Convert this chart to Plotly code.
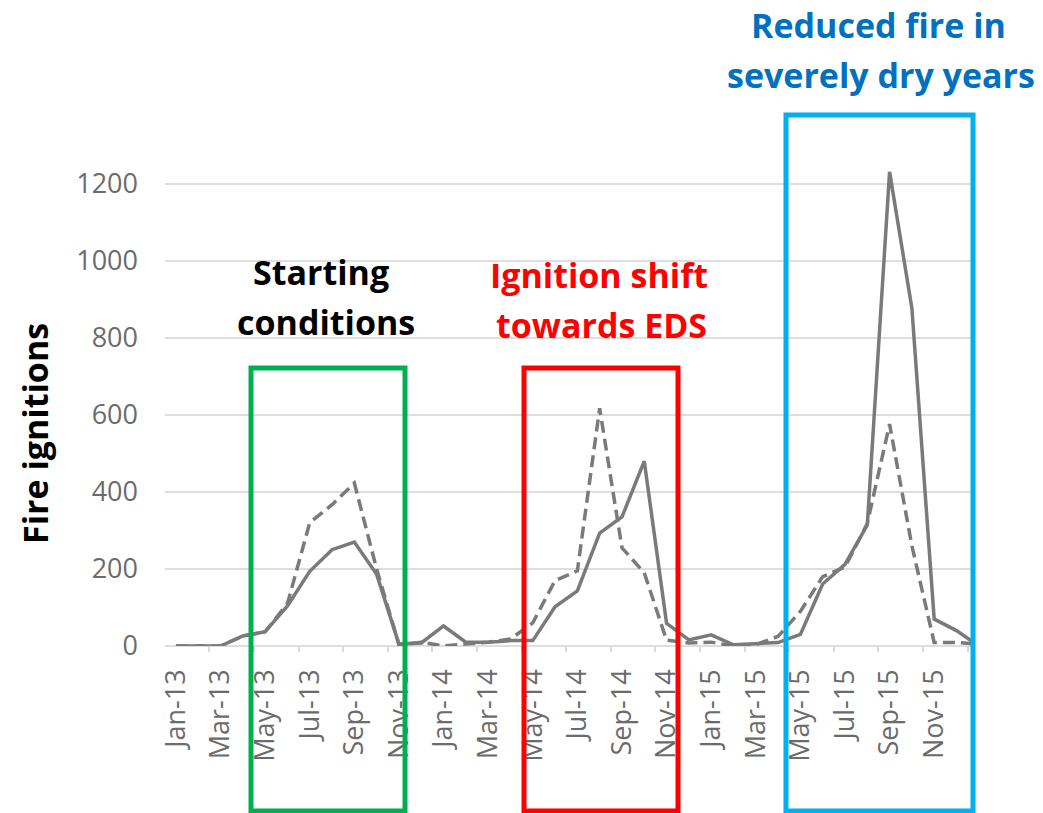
import plotly.graph_objects as go

months = ["Jan-13", "Feb-13", "Mar-13", "Apr-13", "May-13", "Jun-13", "Jul-13", "Aug-13", "Sep-13", "Oct-13", "Nov-13", "Dec-13",
          "Jan-14", "Feb-14", "Mar-14", "Apr-14", "May-14", "Jun-14", "Jul-14", "Aug-14", "Sep-14", "Oct-14", "Nov-14", "Dec-14",
          "Jan-15", "Feb-15", "Mar-15", "Apr-15", "May-15", "Jun-15", "Jul-15", "Aug-15", "Sep-15", "Oct-15", "Nov-15", "Dec-15",
          "Jan-16"]

solid_series = [0, 0, 0, 26, 37, 104, 194, 250, 270, 186, 5, 8,
                52, 10, 10, 14, 14, 102, 143, 293, 335, 480, 59, 16,
                29, 3, 5, 9, 30, 161, 212, 314, 1231, 877, 70, 40,
                0]

dashed_series = [0, 0, 0, 26, 37, 110, 320, 367, 423, 200, 3, 10,
                 0, 5, 10, 18, 60, 170, 195, 617, 255, 190, 15, 8,
                 10, 0, 3, 25, 90, 180, 205, 318, 576, 260, 9, 9,
                 5]

y_ticks = [0, 200, 400, 600, 800, 1000, 1200]

W, H = 1043, 813
L, R, T, B = 165, 975, 153, 646
Y_MAX = 1280


def px(x):
    return (x - L) / (R - L)


def py(y):
    return (B - y) / (B - T)


LINE = "#7a7a7a"
fig = go.Figure()
fig.add_trace(go.Scatter(x=months, y=solid_series, mode="lines",
                         line=dict(color=LINE, width=3.5), cliponaxis=True, showlegend=False))
fig.add_trace(go.Scatter(x=months, y=dashed_series, mode="lines",
                         line=dict(color=LINE, width=3.5, dash="12px,6px"), cliponaxis=True, showlegend=False))

boxes = [
    (251, 405, 368, 811, "#00b050"),
    (524, 678, 368, 811, "#ff0000"),
    (786, 973, 115, 811, "#00b0f0"),
]
for x0, x1, y0, y1, c in boxes:
    fig.add_shape(type="rect", xref="paper", yref="paper",
                  x0=px(x0), x1=px(x1), y0=py(y1), y1=py(y0),
                  line=dict(color=c, width=5), fillcolor="rgba(0,0,0,0)", layer="above")

FONT = "Open Sans"
texts = [
    ("Starting", 321, 272, "#000000"),
    ("conditions", 326, 322, "#000000"),
    ("Ignition shift", 599, 275, "#ff0000"),
    ("towards EDS", 601, 325, "#ff0000"),
    ("Reduced fire in", 878, 25, "#0070c0"),
    ("severely dry years", 881, 75, "#0070c0"),
]
for t, x, y, c in texts:
    fig.add_annotation(text="<b>%s</b>" % t, xref="paper", yref="paper",
                       x=px(x), y=py(y), xanchor="center", yanchor="middle",
                       showarrow=False, font=dict(family=FONT, size=34, color=c))

fig.add_annotation(text="<b>Fire ignitions</b>", xref="paper", yref="paper",
                   x=px(35), y=py(434), xanchor="center", yanchor="middle",
                   textangle=-90, showarrow=False,
                   font=dict(family=FONT, size=34, color="#000000"))

fig.update_layout(
    width=W, height=H,
    margin=dict(l=L, r=W - R, t=T, b=H - B, pad=0),
    paper_bgcolor="white", plot_bgcolor="white",
    font=dict(family="Open Sans", color="#6b6b6b"),
    xaxis=dict(type="category", categoryorder="array", categoryarray=months,
               range=[-0.49, 35.83], tickmode="linear", tick0=0, dtick=2,
               tickangle=-90, tickson="boundaries", ticks="outside", ticklen=5,
               tickcolor="#d9d9d9", tickwidth=1.5, ticklabelstandoff=17,
               tickfont=dict(family="Open Sans", size=27, color="#6b6b6b"),
               showgrid=False, showline=False, zeroline=False),
    yaxis=dict(range=[0, Y_MAX], tickvals=y_ticks, ticks="", ticklabelstandoff=26,
               tickfont=dict(family="Open Sans", size=27, color="#6b6b6b"),
               showgrid=True, gridcolor="#dedede", gridwidth=1.5,
               zeroline=True, zerolinecolor="#dedede", zerolinewidth=2,
               showline=False),
)

fig.write_html("out.html", config={"displayModeBar": False},
               post_script="document.body.style.margin='0';")
